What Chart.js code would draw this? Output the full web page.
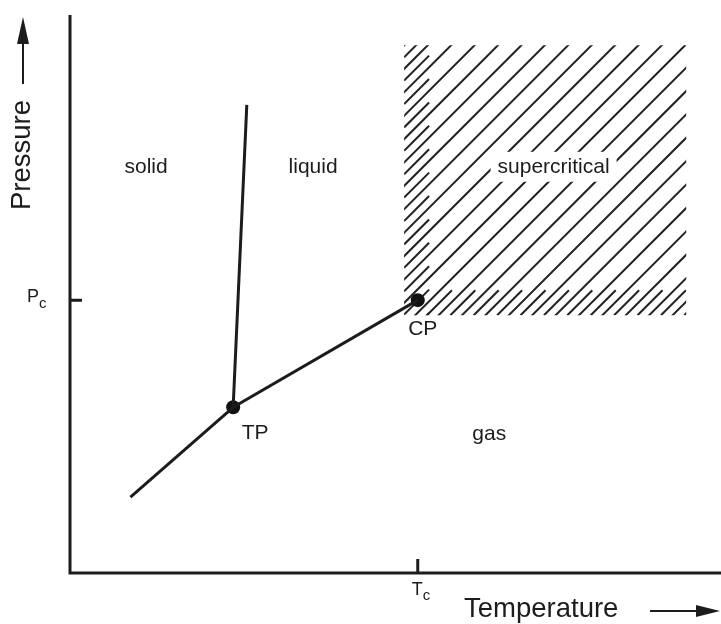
<!DOCTYPE html>
<html>
<head>
<meta charset="utf-8">
<script src="https://cdn.jsdelivr.net/npm/chart.js@4/dist/chart.umd.min.js"></script>
<style>
  html, body { margin: 0; padding: 0; background: #fff; }
  #wrap { width: 721px; height: 624px; }
</style>
</head>
<body>
<div id="wrap"><canvas id="c" width="721" height="624"></canvas></div>
<script>
// ---- data (arbitrary temperature / pressure units, axes 0..100) ----
const sublimationT = [9.3, 25.1];
const sublimationP = [13.6, 29.7];
const vaporizationT = [25.1, 53.5];
const vaporizationP = [29.7, 48.9];
const meltingT = [25.1, 27.2];
const meltingP = [29.7, 83.9];

const specialPointNames = ['TP', 'CP'];
const specialPointT = [25.1, 53.5];
const specialPointP = [29.7, 48.9];

const criticalTemperature = 53.5;   // Tc
const criticalPressure = 48.9;      // Pc
const tickLabelMain = ['T', 'P'];
const tickLabelSub = ['c', 'c'];

const supercriticalT = [51.4, 94.8];
const supercriticalP = [46.2, 94.6];

const regionNames = ['solid', 'liquid', 'supercritical', 'gas'];
const regionT = [11.7, 37.4, 74.4, 64.5];
const regionP = [72.8, 72.8, 72.8, 24.9];

const axisTitles = ['Temperature', 'Pressure'];

const toXY = (xs, ys) => xs.map((x, i) => ({ x: x, y: ys[i] }));

const INK = '#1c1c1c';
const FONT = '"Liberation Sans", Arial, Helvetica, sans-serif';

const decor = {
  id: 'decor',
  beforeDatasetsDraw(chart) {
    const { ctx, scales: { x, y } } = chart;
    const L = x.getPixelForValue(supercriticalT[0]);
    const R = x.getPixelForValue(supercriticalT[1]);
    const T = y.getPixelForValue(supercriticalP[1]);
    const B = y.getPixelForValue(supercriticalP[0]);
    ctx.save();
    ctx.beginPath();
    ctx.rect(L, T, R - L, B - T);
    ctx.clip();
    ctx.strokeStyle = '#222';
    ctx.lineWidth = 2;
    const s = 1;             // hatch slope (45 degrees)
    const step = 23.4;       // spacing of hatch lines
    const c0 = s * 591.7 + T; // phase
    const cMin = s * L + T - 3 * step;
    const cMax = s * R + B + 3 * step;
    const kStart = Math.floor((cMin - c0) / step);
    const kEnd = Math.ceil((cMax - c0) / step);
    for (let k = kStart; k <= kEnd; k++) {
      const c = c0 + k * step;
      ctx.beginPath();
      ctx.moveTo(L - 20, c - s * (L - 20));
      ctx.lineTo(R + 20, c - s * (R + 20));
      ctx.stroke();
    }
    // short in-between lines near the left and bottom edges
    const sl = 25;
    for (let k = kStart; k <= kEnd; k++) {
      const c = c0 + (k + 0.5) * step;
      const yl = c - s * L;
      if (yl > T - 5 && yl < B + s * sl) {
        ctx.beginPath();
        ctx.moveTo(L, yl);
        ctx.lineTo(L + sl, yl - s * sl);
        ctx.stroke();
      }
      const xb = (c - B) / s;
      if (xb > L && xb < R + 5) {
        ctx.beginPath();
        ctx.moveTo(xb, B);
        ctx.lineTo(xb + sl, B - s * sl);
        ctx.stroke();
      }
    }
    ctx.restore();
    // clear box behind the "supercritical" label
    ctx.save();
    ctx.font = '21px ' + FONT;
    const i = regionNames.indexOf('supercritical');
    const px = x.getPixelForValue(regionT[i]);
    const py = y.getPixelForValue(regionP[i]);
    const w = ctx.measureText(regionNames[i]).width;
    ctx.fillStyle = '#fff';
    ctx.fillRect(px - w / 2 - 7, py - 15, w + 14, 30);
    ctx.restore();
  },
  afterDraw(chart) {
    const { ctx, chartArea: a, scales: { x, y } } = chart;
    ctx.save();
    ctx.strokeStyle = INK;
    ctx.fillStyle = INK;
    ctx.lineWidth = 3;
    ctx.lineCap = 'butt';
    // axes
    ctx.beginPath();
    ctx.moveTo(a.left, a.top);
    ctx.lineTo(a.left, a.bottom + 1.5);
    ctx.moveTo(a.left - 1.5, a.bottom);
    ctx.lineTo(721, a.bottom);
    ctx.stroke();
    // inward ticks
    const tx = x.getPixelForValue(criticalTemperature);
    const py = y.getPixelForValue(criticalPressure);
    ctx.beginPath();
    ctx.moveTo(tx, a.bottom);
    ctx.lineTo(tx, a.bottom - 14);
    ctx.moveTo(a.left, py);
    ctx.lineTo(a.left + 12, py);
    ctx.stroke();

    // tick labels with subscripts
    ctx.textBaseline = 'alphabetic';
    ctx.textAlign = 'left';
    ctx.font = '18px ' + FONT;
    ctx.fillText(tickLabelMain[0], tx - 6, a.bottom + 22);
    ctx.font = '15px ' + FONT;
    ctx.fillText(tickLabelSub[0], tx + 5, a.bottom + 27);
    ctx.font = '18px ' + FONT;
    ctx.fillText(tickLabelMain[1], 27, py + 2);
    ctx.font = '15px ' + FONT;
    ctx.fillText(tickLabelSub[1], 39, py + 8);

    // region labels
    ctx.font = '21px ' + FONT;
    ctx.textAlign = 'center';
    ctx.textBaseline = 'middle';
    regionNames.forEach((n, i) => {
      ctx.fillText(n, x.getPixelForValue(regionT[i]), y.getPixelForValue(regionP[i]));
    });
    // special point labels
    ctx.fillText(specialPointNames[0], x.getPixelForValue(specialPointT[0]) + 22, y.getPixelForValue(specialPointP[0]) + 26);
    ctx.fillText(specialPointNames[1], x.getPixelForValue(specialPointT[1]) + 5, y.getPixelForValue(specialPointP[1]) + 29);

    // axis titles
    ctx.font = '27.5px ' + FONT;
    ctx.textAlign = 'left';
    ctx.textBaseline = 'middle';
    ctx.fillText(axisTitles[0], 464, 609);
    ctx.save();
    ctx.translate(22, 155);
    ctx.rotate(-Math.PI / 2);
    ctx.textAlign = 'center';
    ctx.fillText(axisTitles[1], 0, 0);
    ctx.restore();

    // arrows
    ctx.lineWidth = 2;
    ctx.beginPath();
    ctx.moveTo(650, 611);
    ctx.lineTo(700, 611);
    ctx.stroke();
    ctx.beginPath();
    ctx.moveTo(720, 611);
    ctx.lineTo(696, 605);
    ctx.lineTo(696, 617);
    ctx.closePath();
    ctx.fill();

    ctx.beginPath();
    ctx.moveTo(23, 84);
    ctx.lineTo(23, 40);
    ctx.stroke();
    ctx.beginPath();
    ctx.moveTo(23, 17);
    ctx.lineTo(17, 44);
    ctx.lineTo(29, 44);
    ctx.closePath();
    ctx.fill();
    ctx.restore();
  }
};

const lineStyle = {
  showLine: true,
  borderColor: INK,
  borderWidth: 3,
  pointRadius: 0,
  pointHoverRadius: 0,
  fill: false,
  tension: 0
};

new Chart(document.getElementById('c'), {
  type: 'scatter',
  data: {
    datasets: [
      Object.assign({ label: 'sublimation', data: toXY(sublimationT, sublimationP) }, lineStyle),
      Object.assign({ label: 'vaporization', data: toXY(vaporizationT, vaporizationP) }, lineStyle),
      Object.assign({ label: 'melting', data: toXY(meltingT, meltingP) }, lineStyle),
      {
        label: 'points',
        data: toXY(specialPointT, specialPointP),
        showLine: false,
        pointRadius: 7,
        pointBackgroundColor: '#111',
        pointBorderColor: '#111',
        pointBorderWidth: 0
      }
    ]
  },
  options: {
    responsive: false,
    animation: false,
    events: [],
    layout: { autoPadding: false, padding: { left: 70, right: 1, top: 15, bottom: 51 } },
    plugins: { legend: { display: false }, tooltip: { enabled: false } },
    scales: {
      x: { type: 'linear', min: 0, max: 100, display: false },
      y: { type: 'linear', min: 0, max: 100, display: false }
    }
  },
  plugins: [decor]
});
</script>
</body>
</html>
